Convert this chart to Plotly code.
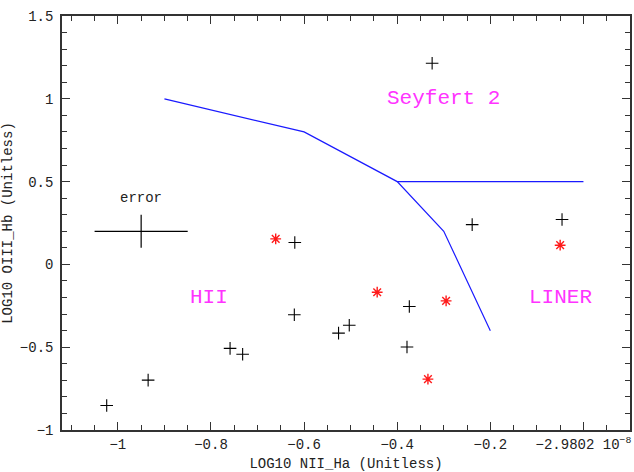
import plotly.graph_objects as go

# Emission-line diagnostic (BPT) diagram
nii_ha_plus = [-0.325, -0.239, -0.046, -0.620, -0.621, -0.503, -0.526, -0.374, -0.379, -0.759, -0.732, -0.935, -1.024]
oiii_hb_plus = [1.215, 0.240, 0.271, 0.132, -0.304, -0.367, -0.415, -0.254, -0.499, -0.507, -0.543, -0.699, -0.852]

nii_ha_star = [-0.661, -0.443, -0.295, -0.334, -0.050]
oiii_hb_star = [0.154, -0.168, -0.220, -0.693, 0.116]

# Dividing lines between classes
div_x = [-0.9, -0.6, -0.4, -0.3, -0.2]
div_y = [1.0, 0.8, 0.5, 0.2, -0.4]
sey_x = [-0.4, 0.0]
sey_y = [0.5, 0.5]

# Class labels
region_names = ["Seyfert 2", "HII", "LINER"]
region_x = [-0.30, -0.805, -0.05]
region_y = [1.0, -0.20, -0.20]

# Typical error bar
err_x, err_y = -0.95, 0.2
err_dx, err_dy = 0.1, 0.1

x_tickvals = [-1.0, -0.8, -0.6, -0.4, -0.2, 0.0]
x_ticktext = ["\u22121", "\u22120.8", "\u22120.6", "\u22120.4", "\u22120.2", "\u22122.9802 10<sup>\u22128</sup>"]

FONT = "Liberation Mono"
AXC = "#333333"
TXT = "#222222"

fig = go.Figure()
fig.add_trace(go.Scatter(x=div_x, y=div_y, mode="lines",
                         line=dict(color="#1a1aff", width=1.2), hoverinfo="skip"))
fig.add_trace(go.Scatter(x=sey_x, y=sey_y, mode="lines",
                         line=dict(color="#1a1aff", width=1.2), hoverinfo="skip"))
fig.add_trace(go.Scatter(x=nii_ha_plus, y=oiii_hb_plus, mode="markers",
                         marker=dict(symbol="cross-thin", size=9,
                                     line=dict(color="black", width=1.1))))
fig.add_trace(go.Scatter(x=nii_ha_star, y=oiii_hb_star, mode="markers",
                         marker=dict(symbol="asterisk", size=9,
                                     line=dict(color="#ff1a1a", width=1.4))))
fig.add_trace(go.Scatter(x=[err_x], y=[err_y], mode="markers",
                         marker=dict(size=1, color="rgba(0,0,0,0)"),
                         error_x=dict(type="constant", value=err_dx, color="black",
                                      thickness=1.2, width=0),
                         error_y=dict(type="constant", value=err_dy, color="black",
                                      thickness=1.2, width=0)))
fig.add_annotation(x=err_x, y=0.40, text="error", showarrow=False,
                   font=dict(family=FONT, size=14, color=TXT))

for name, xv, yv in zip(region_names, region_x, region_y):
    fig.add_annotation(x=xv, y=yv, text=name, showarrow=False,
                       font=dict(family=FONT, size=21, color="#ff33ff"))

fig.update_xaxes(range=[-1.12, 0.1], tickvals=x_tickvals, ticktext=x_ticktext,
                 ticks="inside", ticklen=8, tickcolor=AXC, tickwidth=1.2,
                 showline=True, linecolor=AXC, linewidth=1.5, mirror="ticks",
                 showgrid=False, zeroline=False,
                 minor=dict(dtick=0.05, tick0=0, ticks="inside", ticklen=5,
                            tickcolor=AXC, tickwidth=1),
                 tickfont=dict(family=FONT, size=14, color=TXT),
                 title=dict(text="LOG10 NII_Ha (Unitless)", standoff=8,
                            font=dict(family=FONT, size=14, color=TXT)))
fig.update_yaxes(range=[-1, 1.5], dtick=0.5, tick0=0,
                 ticks="inside", ticklen=8, tickcolor=AXC, tickwidth=1.2,
                 showline=True, linecolor=AXC, linewidth=1.5, mirror="ticks",
                 showgrid=False, zeroline=False,
                 minor=dict(dtick=0.1, tick0=0, ticks="inside", ticklen=5,
                            tickcolor=AXC, tickwidth=1),
                 tickfont=dict(family=FONT, size=14, color=TXT),
                 ticklabelstandoff=4,
                 title=dict(text="LOG10 OIII_Hb (Unitless)", standoff=6,
                            font=dict(family=FONT, size=14, color=TXT)))

fig.update_layout(width=634, height=472, showlegend=False,
                  plot_bgcolor="white", paper_bgcolor="white",
                  margin=dict(l=62, r=2, t=16, b=39))

fig.write_html("out.html")
